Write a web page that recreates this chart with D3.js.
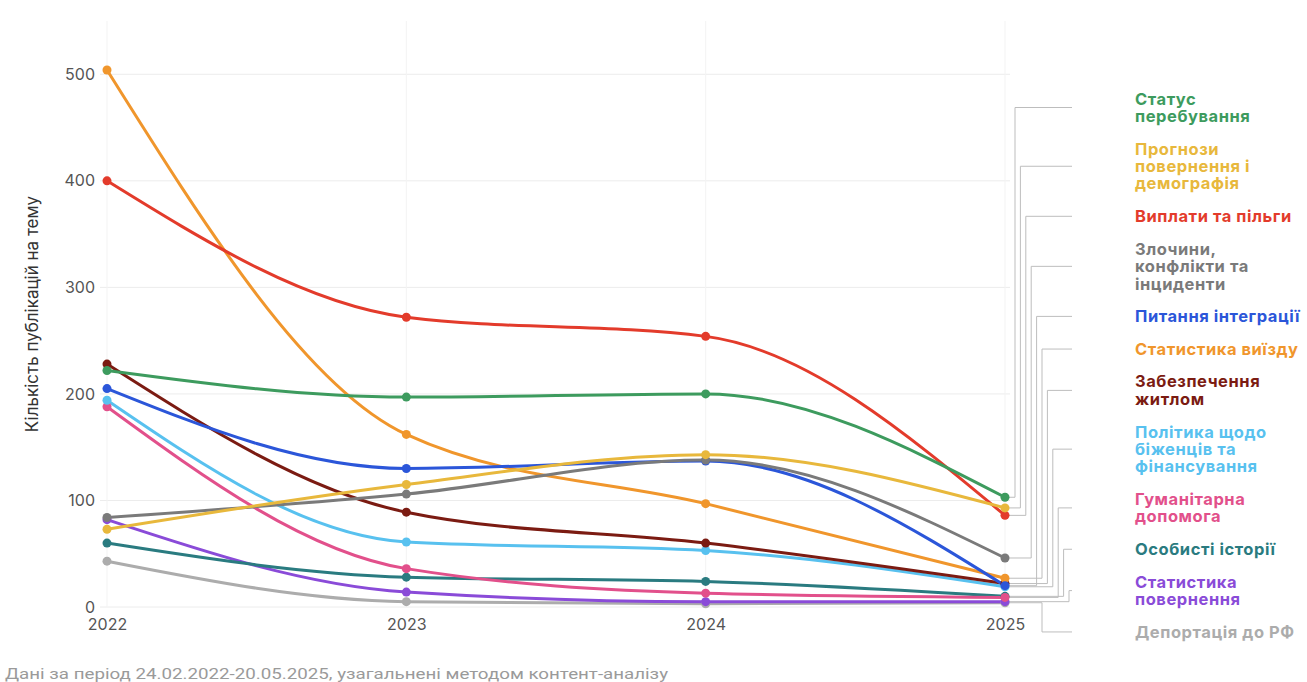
<!DOCTYPE html>
<html><head><meta charset="utf-8">
<script src="https://cdn.jsdelivr.net/npm/d3@7"></script>
<style>
html,body{margin:0;padding:0;background:#fff;}
svg{display:block;font-family:Inter,"Noto Sans",sans-serif;}
</style></head>
<body><svg id="c" width="1307" height="682"></svg>
<script>
const years = ["2022","2023","2024","2025"];
const yTicks = [0,100,200,300,400,500];
const seriesNames = [
  "Статус перебування","Прогнози повернення і демографія","Виплати та пільги",
  "Злочини, конфлікти та інциденти","Питання інтеграції","Статистика виїзду",
  "Забезпечення житлом","Політика щодо біженців та фінансування","Гуманітарна допомога",
  "Особисті історії","Статистика повернення","Депортація до РФ"];
const labelLines = [
  ["Статус","перебування"],["Прогнози","повернення і","демографія"],["Виплати та пільги"],
  ["Злочини,","конфлікти та","інциденти"],["Питання інтеграції"],["Статистика виїзду"],
  ["Забезпечення","житлом"],["Політика щодо","біженців та","фінансування"],["Гуманітарна","допомога"],
  ["Особисті історії"],["Статистика","повернення"],["Депортація до РФ"]];
const seriesColors = ["#3d9b5e","#e8b83c","#e33b2b","#7a7a7a","#2b56d9","#f0962c",
  "#7b1b12","#58c1ef","#e2508b","#2a7b80","#8a4bd8","#acacac"];
const statusV   = [222,197,200,103];
const prognozV  = [73,115,143,93];
const vyplatyV  = [400,272,254,86];
const zlochynyV = [84,106,138,46];
const integrV   = [205,130,137,20];
const vyizdV    = [504,162,97,27];
const zhytloV   = [228,89,60,22];
const polityV   = [194,61,53,19];
const gumanV    = [188,36,13,9];
const istoriiV  = [60,28,24,10];
const povernV   = [82,14,5,5];
const deportV   = [43,5,3,4];
const seriesValues = [statusV,prognozV,vyplatyV,zlochynyV,integrV,vyizdV,zhytloV,polityV,gumanV,istoriiV,povernV,deportV];

const svg = d3.select("#c");
const x = d3.scalePoint().domain(years).range([107,1005]);
const y = d3.scaleLinear().domain([0,550]).range([607,21]);

// grid
const g = svg.append("g");
g.selectAll("line.h").data(yTicks).join("line")
  .attr("x1",100).attr("x2",1010).attr("y1",d=>y(d)).attr("y2",d=>y(d))
  .attr("stroke","#ececec").attr("stroke-width",1);
g.selectAll("line.v").data(years).join("line")
  .attr("x1",d=>x(d)).attr("x2",d=>x(d)).attr("y1",y(550)).attr("y2",y(0))
  .attr("stroke","#f3f3f3").attr("stroke-width",1);

// axes
const yAxis = svg.append("g").attr("transform","translate(95,0)")
  .call(d3.axisLeft(y).tickValues(yTicks).tickSize(0).tickPadding(0));
yAxis.select(".domain").remove();
yAxis.selectAll("text").attr("font-size",16).attr("fill","#555").attr("font-family","Inter,sans-serif");
const xAxis = svg.append("g").attr("transform","translate(0,619)")
  .call(d3.axisBottom(x).tickSize(0).tickPadding(0));
xAxis.select(".domain").remove();
xAxis.selectAll("text").attr("font-size",16).attr("fill","#555").attr("font-family","Inter,sans-serif");

svg.append("text").attr("transform","translate(38,314) rotate(-90)")
  .attr("text-anchor","middle").attr("font-size",17).attr("fill","#333")
  .text("Кількість публікацій на тему");

// legend layout
const lineH = 17.4, gap = 15.25;
let centers = [], cur = 107.5;
labelLines.forEach((l,i)=>{
  if(i>0){ cur += (labelLines[i-1].length/2 + l.length/2)*lineH + gap; }
  centers.push(cur);
});
// connectors
const last = years[years.length-1];
let above = 0, below = 0;
const conn = svg.append("g").attr("fill","none").attr("stroke","#bdbdbd").attr("stroke-width",1);
seriesValues.forEach((vals,i)=>{
  const ey = y(vals[vals.length-1]);
  const ly = centers[i];
  let ex;
  if(ly <= ey){ ex = 1015 + above*5.4; above++; }
  else { ex = 1042 - below*5.4; below++; }
  conn.append("path").attr("d",`M${x(last)},${ey}H${ex}V${ly}H1072`);
});
// labels
const lg = svg.append("g");
labelLines.forEach((l,i)=>{
  const top = centers[i] - (l.length-1)*lineH/2;
  const t = lg.append("text").attr("x",1135).attr("font-size",16.5).attr("font-weight",700)
    .attr("letter-spacing","0.55px")
    .attr("fill",seriesColors[i]).attr("font-family","Inter,sans-serif");
  l.forEach((s,j)=>{
    t.append("tspan").attr("x",1135).attr("y",top + j*lineH).attr("dy","0.35em").text(s);
  });
});

// lines
const line = d3.line().x((d,j)=>x(years[j])).y(d=>y(d)).curve(d3.curveMonotoneX);
const order = d3.range(seriesValues.length).reverse();
const lines = svg.append("g");
order.forEach(i=>{
  lines.append("path").attr("d",line(seriesValues[i])).attr("fill","none")
    .attr("stroke",seriesColors[i]).attr("stroke-width",3).attr("stroke-linecap","round");
});
order.forEach(i=>{
  lines.selectAll(null).data(seriesValues[i]).join("circle")
    .attr("cx",(d,j)=>x(years[j])).attr("cy",d=>y(d)).attr("r",4.5).attr("fill",seriesColors[i]);
});

svg.append("text").attr("x",5).attr("y",679).attr("font-size",15.5).attr("fill","#9a9a9a")
  .attr("font-family","Roboto,sans-serif").attr("textLength",663).attr("lengthAdjust","spacingAndGlyphs")
  .text("Дані за період 24.02.2022-20.05.2025, узагальнені методом контент-аналізу");
</script></body></html>
